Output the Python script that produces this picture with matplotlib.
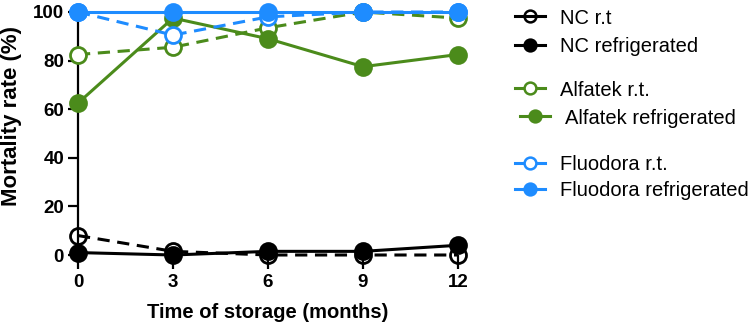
import matplotlib
matplotlib.use("Agg")
import matplotlib.pyplot as plt
from matplotlib.lines import Line2D

plt.rcParams['font.family'] = ['Liberation Sans', 'DejaVu Sans']

months = [0, 3, 6, 9, 12]
nc_rt = [8, 1.5, 0, 0, 0]
nc_ref = [1, 0, 1.5, 1.5, 4]
alf_rt = [82.5, 85.5, 93.5, 100, 97.5]
alf_ref = [62.5, 97.5, 89, 77.5, 82.5]
flu_rt = [100, 90.5, 98, 100, 100]
flu_ref = [100, 100, 100, 100, 100]

labels = ["NC r.t", "NC refrigerated", "Alfatek r.t.", "Alfatek refrigerated",
          "Fluodora r.t.", "Fluodora refrigerated"]
xticks = [0, 3, 6, 9, 12]
yticks = [0, 20, 40, 60, 80, 100]

BLACK = "#000000"
GREEN = "#4b8b1b"
BLUE = "#1e8cff"

W, H = 749, 324
fig = plt.figure(figsize=(W/100, H/100), dpi=100)
ax = fig.add_axes([78/W, 1-255/H, (458-78)/W, (255-12)/H])

lw = 2.2
ms = 11.5
mew = 2.0

# (values, colour, linestyle, marker face)
series = [
    (nc_rt, BLACK, '--', 'none'),
    (nc_ref, BLACK, '-', BLACK),
    (alf_rt, GREEN, '--', 'white'),
    (alf_ref, GREEN, '-', GREEN),
    (flu_rt, BLUE, '--', 'white'),
    (flu_ref, BLUE, '-', BLUE),
]
order = [2, 3, 4, 5, 0, 1]
for i in order:
    vals, col, ls, mfc = series[i]
    line, = ax.plot(months, vals, color=col, ls=ls, lw=lw, marker='o', ms=ms,
                    mfc=mfc, mec=col, mew=mew, clip_on=False, zorder=3)
    if ls == '--':
        line.set_dashes((4, 2.5))

ax.set_xlim(0, 12)
ax.set_ylim(0, 100)
ax.set_xticks(xticks)
ax.set_yticks(yticks)
ax.set_xticklabels([str(v) for v in xticks], fontweight='bold', fontsize=13.5)
ax.set_yticklabels([str(v) for v in yticks], fontweight='bold', fontsize=13.5)
ax.spines['top'].set_visible(False)
ax.spines['right'].set_visible(False)
ax.spines['bottom'].set_visible(False)
ax.spines['left'].set_linewidth(1.6)
ax.tick_params(axis='both', width=1.6, length=7, pad=3)
ax.tick_params(axis='x', length=10, pad=4)
ax.set_xlabel("Time of storage (months)", fontweight='bold', fontsize=14.5, labelpad=8)
ax.set_ylabel("Mortality rate (%)", fontweight='bold', fontsize=16)
ax.yaxis.set_label_coords((22-78)/380, (255-116)/243)

# legend: one entry per row, placed like the reference
row_y = [18, 47, 90, 118, 165, 191]
row_x = [515, 515, 515, 520, 515, 515]
for i, (vals, col, ls, mfc) in enumerate(series):
    h = Line2D([], [], color=col, ls='-', lw=lw, marker='o', ms=8.5,
               mfc=mfc, mec=col, mew=1.8)
    leg = fig.legend([h], [labels[i]], loc='center left',
                     bbox_to_anchor=(row_x[i]/W, 1-row_y[i]/H),
                     frameon=False, fontsize=14.5, handlelength=1.5,
                     handletextpad=0.75, borderpad=0, borderaxespad=0)

plt.savefig("out.png", dpi=100)
